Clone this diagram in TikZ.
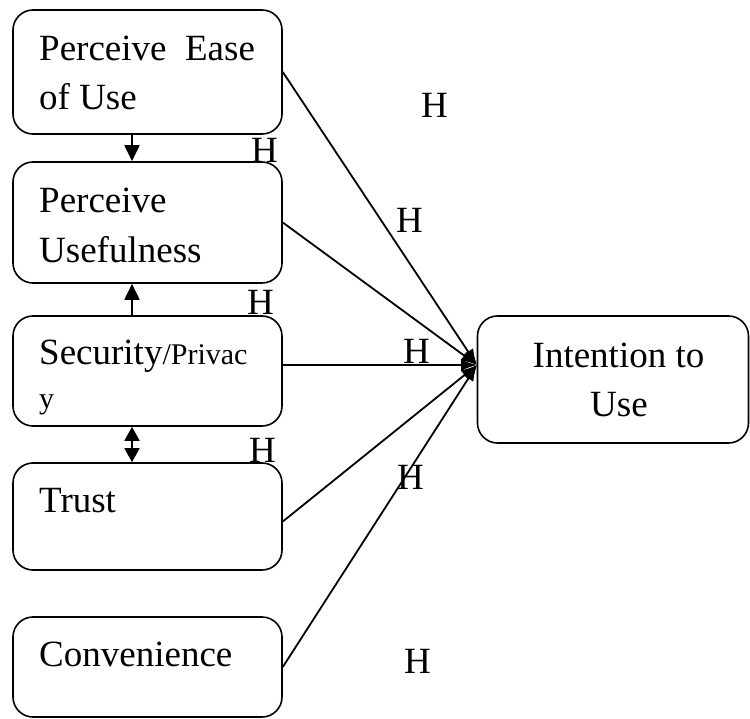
\documentclass[tikz,border=0pt]{standalone}
\usepackage{fontspec}
\setmainfont{Liberation Serif}
\usetikzlibrary{arrows.meta,calc}
\begin{document}
\begin{tikzpicture}[x=1pt,y=-1pt,
  box/.style={draw,line width=1.6pt,rounded corners=20pt,inner sep=0pt},
  txt/.style={anchor=base west,inner sep=0pt,font=\fontsize{37}{49}\selectfont},
  smalltxt/.style={anchor=base west,inner sep=0pt,font=\fontsize{30}{36}\selectfont},
  hlab/.style={anchor=base west,inner sep=0pt,font=\fontsize{37}{40}\selectfont},
  conn/.style={line width=1.8pt,-{Latex[length=16pt,width=12pt]}},
  vconn/.style={line width=1.8pt,-{Triangle[length=16pt,width=15pt]}},
  dconn/.style={line width=1.8pt,{Triangle[length=14pt,width=15pt]}-{Triangle[length=14pt,width=15pt]}}]
\useasboundingbox (0,0) rectangle (750,719);

% boxes
\node[box,minimum width=269pt,minimum height=124pt] (b1) at (147.5,72) {};
\node[box,minimum width=269pt,minimum height=121pt] (b2) at (147.5,222.5) {};
\node[box,minimum width=269pt,minimum height=110pt] (b3) at (147.5,371) {};
\node[box,minimum width=269pt,minimum height=107pt] (b4) at (147.5,516.5) {};
\node[box,minimum width=269pt,minimum height=100pt] (b5) at (147.5,667) {};
\node[box,minimum width=271pt,minimum height=127pt] (it) at (613,379.5) {};

% texts
\node[txt] (t1a) at (39,61) {Perceive\ \ Ease};
\node[txt] (t1b) at (39,110) {of Use};
\node[txt] (t2a) at (39,213) {Perceive};
\node[txt] (t2b) at (39,263) {Usefulness};
\node[txt] (t3a) at (39,365) {Security\fontsize{30}{36}\selectfont/Privac};
\node[smalltxt] (t3b) at (39,408) {y};
\node[txt] (t4) at (39,512) {Trust};
\node[txt] (t5) at (39,666) {Convenience};
\node[txt,anchor=base] (ti1) at (618.5,368) {Intention to};
\node[txt,anchor=base] (ti2) at (619,417) {Use};

% connectors
\coordinate (conv) at (477,365);
\coordinate (vx) at (132,0);
\draw[conn] (b1.east) -- (conv);
\draw[conn] (b2.east) -- (conv);
\draw[conn] (b3.east |- conv) -- (conv);
\draw[conn] ($(b4.east)+(0,5)$) -- (conv);
\draw[conn] (b5.east) -- (conv);

\draw[vconn] (b1.south -| vx) -- (b2.north -| vx);
\draw[vconn] (b3.north -| vx) -- (b2.south -| vx);
\draw[dconn] (b3.south -| vx) -- (b4.north -| vx);

% H labels
\node[hlab] (h1) at (421,118) {H};
\node[hlab] (h2) at (251,163) {H};
\node[hlab] (h3) at (396,233) {H};
\node[hlab] (h4) at (247,315) {H};
\node[hlab] (h5) at (403,363) {H};
\node[hlab] (h6) at (249,462) {H};
\node[hlab] (h7) at (397,489) {H};
\node[hlab] (h8) at (404,673) {H};
\end{tikzpicture}
\end{document}
